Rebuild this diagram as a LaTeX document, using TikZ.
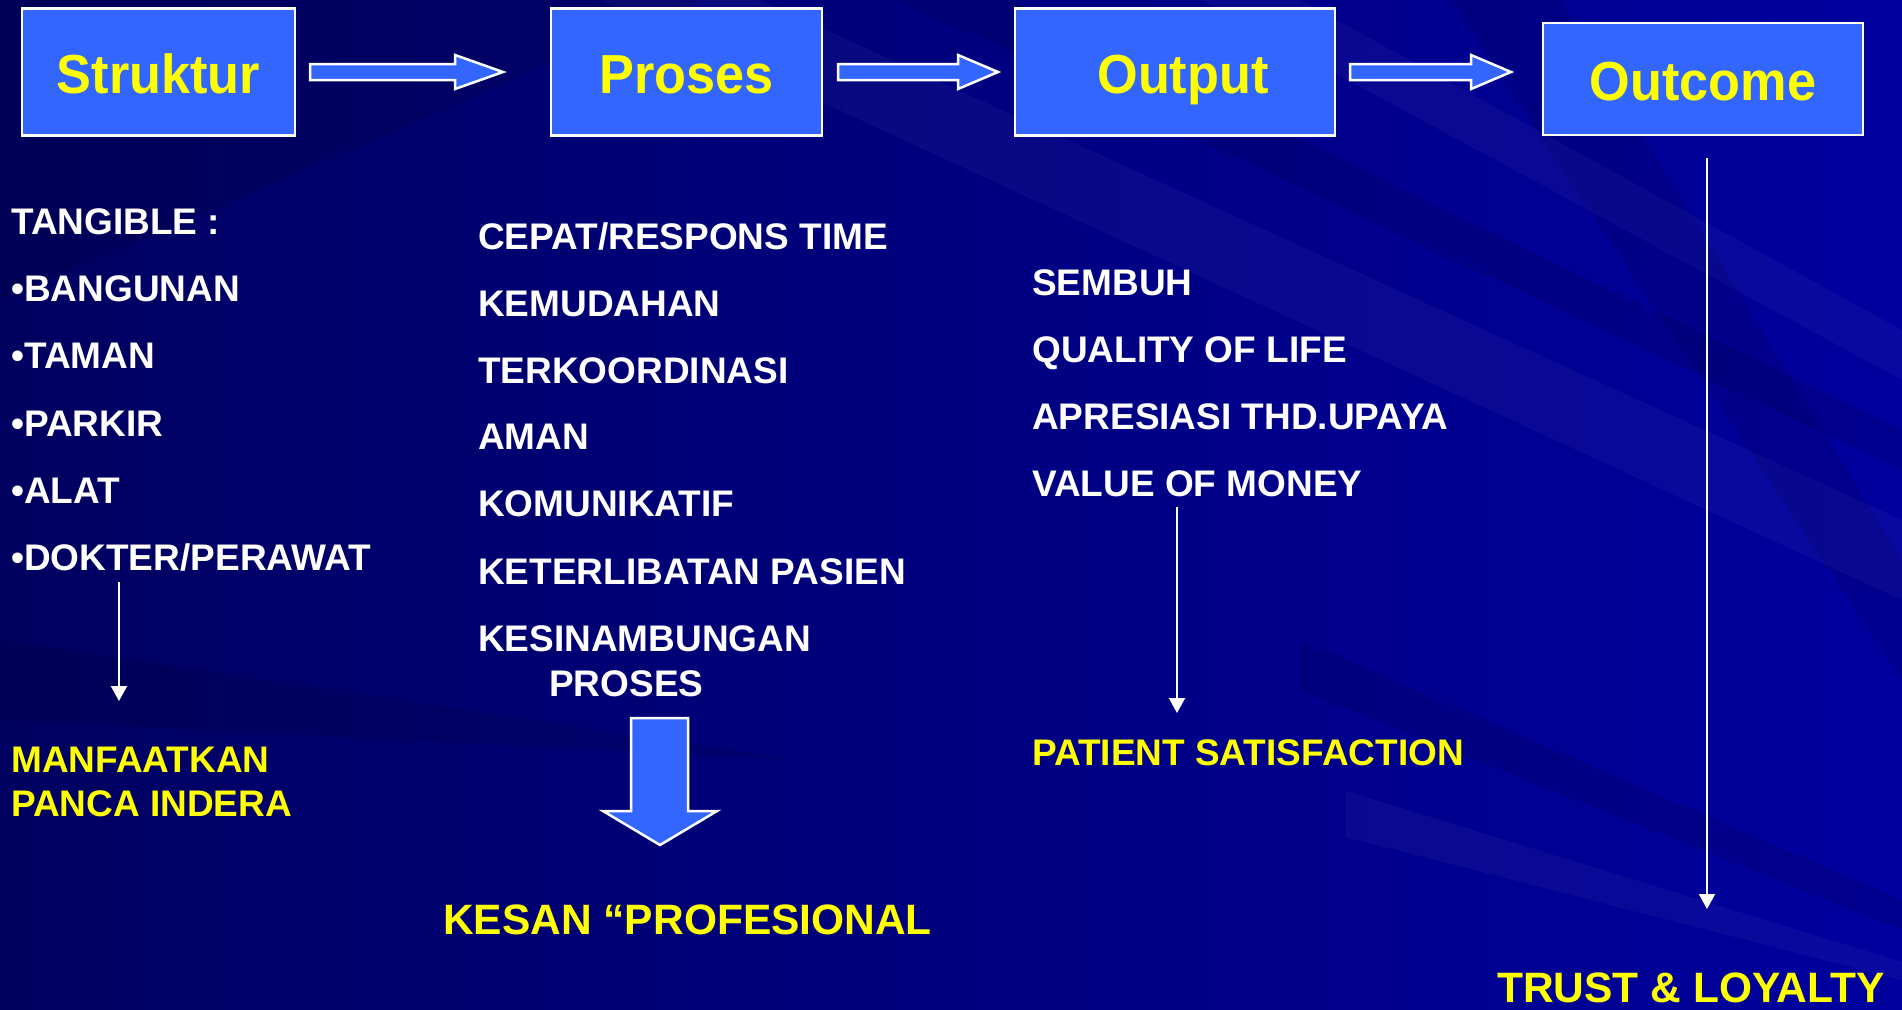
\documentclass[tikz,border=0pt]{standalone}
\usepackage{fontspec}
\setmainfont{Liberation Sans}
\newfontfamily\titlefont{Liberation Sans}[FakeStretch=0.95]
\usetikzlibrary{arrows.meta}

\definecolor{slidenavy}{RGB}{0,0,96}
\definecolor{slideblue}{RGB}{0,0,158}
\definecolor{boxblue}{RGB}{51,102,255}
\definecolor{titleyellow}{RGB}{255,255,0}

\tikzset{
  stagebox/.style={draw=white, line width=2.5pt, fill=boxblue, inner sep=0pt,
    text=titleyellow, text height=42pt, text depth=0pt,
    font=\titlefont\fontsize{55}{60}\selectfont\bfseries},
  itemtext/.style={anchor=base west, inner sep=0pt, text=white,
    font=\fontsize{37}{40}\selectfont\bfseries},
  resulttext/.style={itemtext, text=titleyellow},
  bigresult/.style={resulttext, font=\fontsize{42.5}{46}\selectfont\bfseries},
  blockarrow/.style={draw=white, line width=2.5pt, fill=boxblue, line join=miter},
  thinarrow/.style={white, line width=2pt, -{Triangle[width=16pt,length=15pt]}},
  lightband/.style={fill=white, opacity=0.035},
  darkband/.style={fill=black, opacity=0.09}
}

\begin{document}
\begin{tikzpicture}[x=1pt,y=-1pt]
  \useasboundingbox (0,0) rectangle (1902,1009);
  % background of the slide
  \shade[left color=slidenavy, right color=slideblue] (0,0) rectangle (1902,1009);
  \fill[darkband] (0,0) -- (700,0) -- (0,300) -- cycle;
  \fill[lightband] (600,0) -- (760,0) -- (1902,520) -- (1902,600) -- cycle;
  \fill[darkband] (900,0) -- (1010,0) -- (1902,430) -- (1902,470) -- cycle;
  \fill[lightband] (1200,0) -- (1300,0) -- (1902,330) -- (1902,380) -- cycle;
  \fill[darkband] (1450,0) -- (1560,0) -- (1902,560) -- (1902,680) -- cycle;
  \fill[darkband] (1300,640) -- (1902,900) -- (1902,930) -- (1300,690) -- cycle;
  \fill[lightband] (1346,791) -- (1902,962) -- (1902,980) -- (1346,837) -- cycle;
  \fill[darkband] (0,640) -- (800,760) -- (0,720) -- cycle;

  % the four stages
  \node[stagebox, minimum width=273pt, minimum height=127pt] (struktur) at (158.5,72) {Struktur};
  \node[stagebox, minimum width=271pt, minimum height=127pt] (proses) at (686.5,72) {Proses};
  \node[stagebox, minimum width=320pt, minimum height=127pt] (output) at (1175,72) {\hspace*{16pt}Output};
  \node[stagebox, minimum width=320pt, minimum height=112pt] (outcome) at (1703,79) {Outcome};

  % block arrows between the stages
  \draw[blockarrow] (310,64) -- (455,64) -- (455,55) -- (503,72) -- (455,89) -- (455,80) -- (310,80) -- cycle;
  \draw[blockarrow] (838,64) -- (958,64) -- (958,55) -- (998,72) -- (958,89) -- (958,80) -- (838,80) -- cycle;
  \draw[blockarrow] (1350,64) -- (1471,64) -- (1471,55) -- (1511,72) -- (1471,89) -- (1471,80) -- (1350,80) -- cycle;

  % Struktur column
  \node[itemtext] (tangible) at (11,234) {TANGIBLE :};
  \node[itemtext] (bangunan) at (11,301) {•BANGUNAN};
  \node[itemtext] (taman) at (11,368) {•TAMAN};
  \node[itemtext] (parkir) at (11,436) {•PARKIR};
  \node[itemtext] (alat) at (11,503) {•ALAT};
  \node[itemtext] (dokter) at (11,570) {•DOKTER/PERAWAT};
  \node[resulttext] (manfaat) at (11,772) {MANFAATKAN};
  \node[resulttext] (panca) at (11,816) {PANCA INDERA};
  \coordinate (s1) at (119,582);
  \coordinate (s2) at (119,701);
  \draw[thinarrow] (s1) -- (s2);

  % Proses column
  \node[itemtext] (cepat) at (478,249) {CEPAT/RESPONS TIME};
  \node[itemtext] (mudah) at (478,316) {KEMUDAHAN};
  \node[itemtext] (koord) at (478,383) {TERKOORDINASI};
  \node[itemtext] (aman) at (478,449) {AMAN};
  \node[itemtext] (komun) at (478,516) {KOMUNIKATIF};
  \node[itemtext] (libat) at (478,584) {KETERLIBATAN PASIEN};
  \node[itemtext] (sinam) at (478,651) {KESINAMBUNGAN};
  \node[itemtext] (prosesb) at (549,696) {PROSES};
  \draw[blockarrow] (631,718) -- (688,718) -- (688,811) -- (717,811) -- (660,845) -- (603,811) -- (631,811) -- cycle;
  \node[bigresult] (kesan) at (443,934) {KESAN “PROFESIONAL};

  % Output column
  \node[itemtext] (sembuh) at (1032,295) {SEMBUH};
  \node[itemtext] (quality) at (1032,362) {QUALITY OF LIFE};
  \node[itemtext] (apres) at (1032,429) {APRESIASI THD.UPAYA};
  \node[itemtext] (value) at (1032,496) {VALUE OF MONEY};
  \node[resulttext] (satis) at (1032,765) {PATIENT SATISFACTION};
  \coordinate (o1) at (1177,507);
  \coordinate (o2) at (1177,713);
  \draw[thinarrow] (o1) -- (o2);

  % Outcome column
  \node[bigresult] (trust) at (1497,1002) {TRUST \& LOYALTY};
  \coordinate (t1) at (1707,158);
  \coordinate (t2) at (1707,909);
  \draw[thinarrow] (t1) -- (t2);
\end{tikzpicture}
\end{document}
